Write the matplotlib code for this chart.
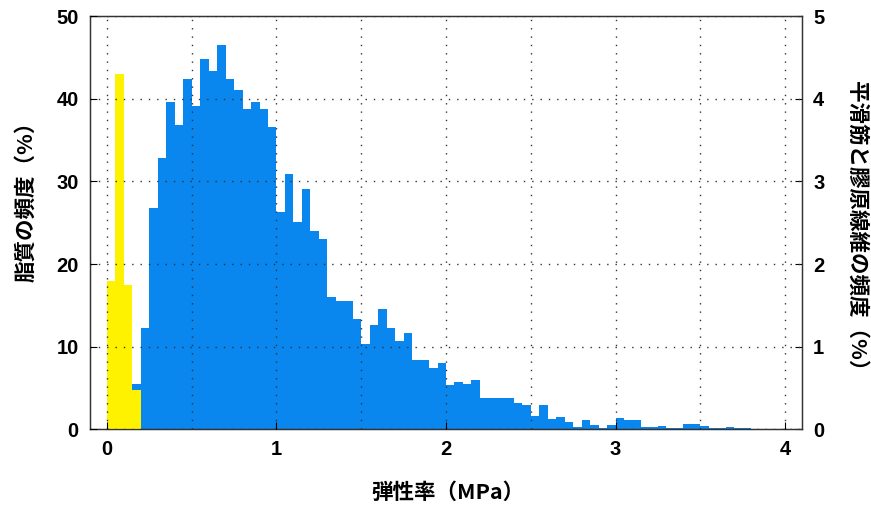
import numpy as np
import matplotlib

matplotlib.use("Agg")
import matplotlib.pyplot as plt
from matplotlib.ticker import MultipleLocator

plt.rcParams["font.family"] = ["Liberation Sans", "Noto Sans CJK JP", "DejaVu Sans"]

# bin width of both histograms (MPa)
BIN = 0.05

# lipid frequency (%), left axis, bins starting at 0.0
lipid_start = 0.0
lipid_freq = [18.0, 43.0, 17.5, 4.7]

# smooth muscle & collagen frequency (%), right axis, bins starting at 0.15
fiber_start = 0.15
fiber_freq = [
    0.54, 1.22, 2.68, 3.28, 3.96, 3.68, 4.24, 3.91, 4.48, 4.34,
    4.66, 4.24, 4.11, 3.88, 3.96, 3.88, 3.66, 2.63, 3.09, 2.51,
    2.91, 2.40, 2.30, 1.60, 1.55, 1.55, 1.33, 1.03, 1.26, 1.45,
    1.22, 1.07, 1.16, 0.84, 0.84, 0.74, 0.80, 0.53, 0.57, 0.54,
    0.59, 0.38, 0.38, 0.37, 0.37, 0.32, 0.29, 0.16, 0.29, 0.12,
    0.14, 0.08, 0.03, 0.11, 0.05, 0.01, 0.05, 0.13, 0.11, 0.11,
    0.02, 0.02, 0.04, 0.01, 0.01, 0.065, 0.065, 0.04, 0.01, 0.01,
    0.025, 0.015, 0.015, 0.005, 0.005, 0.005,
]

xticks = [0, 1, 2, 3, 4]
left_ticks = [0, 10, 20, 30, 40, 50]
right_ticks = [0, 1, 2, 3, 4, 5]

YELLOW = "#fff200"
BLUE = "#0a86ef"

fig = plt.figure(figsize=(8.71, 5.07), dpi=100)
ax = fig.add_axes([0.1033, 0.1538, 0.8175, 0.8137])
ax2 = ax.twinx()

lipid_edges = lipid_start + BIN * np.arange(len(lipid_freq))
fiber_edges = fiber_start + BIN * np.arange(len(fiber_freq))

ax2.bar(fiber_edges, fiber_freq, width=BIN, align="edge", color=BLUE,
        linewidth=0)
ax.bar(lipid_edges, lipid_freq, width=BIN, align="edge", color=YELLOW,
       linewidth=0, zorder=2)

# left axis (yellow) drawn above the blue bars
ax.set_zorder(ax2.get_zorder() + 1)
ax.patch.set_visible(False)

ax.set_xlim(-0.1, 4.1)
ax.set_ylim(0, 50)
ax2.set_ylim(0, 5)

ax.set_xticks(xticks)
ax.xaxis.set_minor_locator(MultipleLocator(0.5))
ax.set_yticks(left_ticks)
ax2.set_yticks(right_ticks)

ax.grid(True, which="both", axis="x", color="#333333", linestyle=(0, (1, 5)),
        linewidth=1.0, zorder=3)
ax.grid(True, which="major", axis="y", color="#333333", linestyle=(0, (1, 5)),
        linewidth=1.0, zorder=3)
ax.set_axisbelow(False)

ax.tick_params(axis="both", which="both", direction="in", length=5,
               width=0.8, pad=8)
ax.tick_params(axis="x", which="minor", length=0)
ax2.tick_params(axis="y", direction="in", length=5, width=0.8, pad=8)
for lab in ax.get_xticklabels() + ax.get_yticklabels() + ax2.get_yticklabels():
    lab.set_fontsize(14.5)
    lab.set_fontweight("bold")

for a in (ax, ax2):
    for sp in a.spines.values():
        sp.set_linewidth(0.9)
        sp.set_color("#333333")

cjk = ["Noto Sans CJK JP", "DejaVu Sans"]
ax.set_xlabel("弾性率（MPa）", family=cjk, fontsize=15.5, fontweight="bold")
ax.set_ylabel("脂質の頻度（%）", family=cjk, fontsize=15.5, fontweight="bold")
ax2.set_ylabel("平滑筋と膠原線維の頻度（%）", family=cjk, fontsize=15.5,
               fontweight="bold", rotation=-90)
for lab in (ax.xaxis.label, ax.yaxis.label, ax2.yaxis.label):
    lab.set_va("center")
    lab.set_ha("center")
ax.xaxis.set_label_coords(0.502, -0.153)
ax.yaxis.set_label_coords(-0.09, 0.565)
ax2.yaxis.set_label_coords(1.077, 0.48)

fig.savefig("out.png", dpi=100)
